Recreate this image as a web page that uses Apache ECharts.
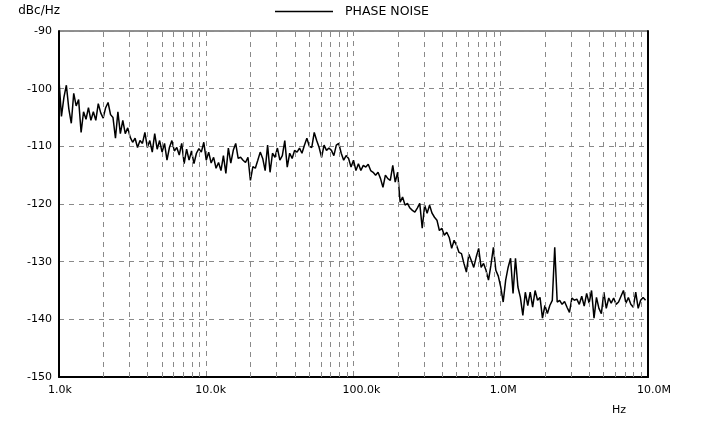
<!DOCTYPE html>
<html>
<head>
<meta charset="utf-8">
<script src="https://cdn.jsdelivr.net/npm/echarts@6/dist/echarts.min.js"></script>
<style>
html,body{margin:0;padding:0;background:#fff;}
#chart{width:706px;height:425px;}
</style>
</head>
<body>
<div id="chart"></div>
<script>
// Offset frequency in kHz (log sweep of the analyzer)
var freqKHz = [
1,1.039,1.08,1.122,1.166,1.212,1.259,1.308,1.359,1.413,1.468,1.526,1.585,1.647,1.711,1.778,1.848,1.92,1.995,2.074,2.154,2.239,2.326,2.418,2.512,2.61,2.712,2.818,2.929,3.043,3.162,3.286,3.415,3.548,3.687,3.831,3.981,4.137,4.299,4.467,4.642,4.823,5.012,5.208,5.412,5.623,5.843,6.072,6.31,6.556,6.813,7.08,7.356,7.644,7.943,8.254,8.577,8.913,9.261,9.624,
10,10.39,10.8,11.22,11.66,12.12,12.59,13.08,13.59,14.13,14.68,15.26,15.85,16.47,17.11,17.78,18.48,19.2,19.95,20.74,21.54,22.39,23.26,24.18,25.12,26.1,27.12,28.18,29.29,30.43,31.62,32.86,34.15,35.48,36.87,38.31,39.81,41.37,42.99,44.67,46.42,48.23,50.12,52.08,54.12,56.23,58.43,60.72,63.1,65.56,68.13,70.8,73.56,76.44,79.43,82.54,85.77,89.13,92.61,96.24,
100,103.9,108,112.2,116.6,121.2,125.9,130.8,135.9,141.3,146.8,152.6,158.5,164.7,171.1,177.8,184.8,192,199.5,207.4,215.4,223.9,232.6,241.8,251.2,261,271.2,281.8,292.9,304.3,316.2,328.6,341.5,354.8,368.7,383.1,398.1,413.7,429.9,446.7,464.2,482.3,501.2,520.8,541.2,562.3,584.3,607.2,631,655.6,681.3,708,735.6,764.4,794.3,825.4,857.7,891.3,926.1,962.4,
1000,1039,1080,1122,1166,1212,1259,1308,1359,1413,1468,1526,1585,1647,1711,1778,1848,1920,1995,2074,2154,2239,2326,2418,2512,2610,2712,2818,2929,3043,3162,3286,3415,3548,3687,3831,3981,4137,4299,4467,4642,4823,5012,5208,5412,5623,5843,6072,6310,6556,6813,7080,7356,7644,7943,8254,8577,8913,9261,9624
];

// Phase noise in dBc/Hz
var phaseNoiseDb = [
-98.5,-104.8,-101.5,-99.4,-103.5,-106.0,-100.8,-103.0,-101.9,-107.6,
-104.0,-105.3,-103.3,-105.5,-104.0,-105.5,-102.6,-104.2,-105.1,-103.3,
-102.4,-104.5,-105.0,-108.6,-104.0,-107.8,-105.5,-107.8,-106.8,-108.4,
-109.3,-108.6,-110.2,-109.0,-109.5,-107.6,-110.2,-109.0,-111.0,-107.8,
-110.5,-109.0,-111.0,-109.5,-112.4,-110.2,-109.0,-110.8,-110.2,-111.5,
-109.5,-113.0,-110.5,-112.4,-110.8,-113.0,-111.2,-110.4,-111.0,-109.3,
-112.4,-111.0,-112.9,-111.9,-113.8,-112.8,-114.2,-111.6,-114.7,-110.3,
-112.9,-110.7,-109.5,-112.1,-111.9,-112.4,-112.8,-111.9,-115.9,-113.5,
-113.8,-112.4,-111.0,-112.1,-114.2,-109.8,-114.5,-111.2,-111.9,-110.3,
-112.4,-111.6,-109.0,-113.6,-111.2,-112.1,-110.7,-111.0,-110.3,-111.2,
-109.8,-108.6,-110.0,-110.2,-107.6,-109.0,-110.2,-111.9,-109.8,-110.7,
-110.3,-110.7,-111.6,-109.8,-109.5,-111.2,-112.4,-111.6,-112.1,-113.6,
-112.4,-114.2,-113.0,-114.2,-113.3,-113.6,-113.1,-114.2,-114.5,-115.0,
-114.5,-115.6,-117.1,-115.0,-115.6,-115.9,-113.3,-116.2,-114.5,-119.7,
-118.8,-120.2,-119.9,-120.7,-121.1,-121.4,-120.7,-119.9,-124.2,-120.2,
-121.6,-120.2,-121.6,-122.3,-122.8,-124.6,-124.2,-125.4,-124.9,-125.8,
-127.7,-126.3,-127.2,-128.4,-128.6,-130.3,-131.8,-128.7,-129.8,-131.0,
-129.2,-127.7,-131.0,-130.3,-131.5,-133.2,-130.6,-127.5,-131.5,-132.5,
-134.4,-137.0,-133.2,-131.0,-129.4,-135.5,-129.4,-134.4,-136.2,-139.3,
-135.3,-137.6,-135.3,-137.9,-135.0,-136.7,-136.2,-139.8,-137.6,-139.0,
-137.6,-136.7,-127.5,-137.0,-136.7,-137.4,-136.9,-137.9,-138.8,-136.3,
-136.7,-136.5,-137.4,-136.0,-137.7,-135.5,-137.2,-135.0,-139.8,-136.2,
-138.1,-139.0,-135.3,-138.1,-136.3,-137.2,-136.3,-137.4,-137.0,-136.0,
-135.0,-137.2,-136.2,-137.4,-137.9,-135.3,-138.1,-136.7,-136.2,-136.7
];

// Axis tick values (kHz) and labels
var xTickValues = [1, 10, 100, 1000, 10000];
var xTickLabels = ['1.0k', '10.0k', '100.0k', '1.0M', '10.0M'];
// Minor grid positions (kHz): 2..9 of each decade
var minorGridKHz = [2,3,4,5,6,7,8,9,20,30,40,50,60,70,80,90,200,300,400,500,600,700,800,900,2000,3000,4000,5000,6000,7000,8000,9000];

var seriesData = freqKHz.map(function (f, i) { return [f, phaseNoiseDb[i]]; });

var gridStyle = { color: '#8a8a8a', width: 1, type: [5, 5] };
var font = 'DejaVu Sans';

var chart = echarts.init(document.getElementById('chart'), null, { renderer: 'canvas' });
chart.setOption({
  animation: false,
  backgroundColor: '#fff',
  textStyle: { fontFamily: font, color: '#000' },
  grid: { left: 59, right: 58, top: 31, bottom: 48, show: true, borderColor: '#222', borderWidth: 1, backgroundColor: 'transparent' },
  legend: {
    data: ['PHASE NOISE'],
    left: 275, top: 5, padding: 0,
    icon: 'rect',
    itemWidth: 58, itemHeight: 1.5,
    textStyle: { fontFamily: font, fontSize: 12.5, color: '#000', padding: [0, 0, 0, 7] }
  },
  xAxis: {
    type: 'log', logBase: 10, min: 1, max: 10000,
    axisLine: { show: true, lineStyle: { color: '#000', width: 2 } },
    axisTick: { show: false },
    axisLabel: {
      margin: 8, fontFamily: font, fontSize: 11, color: '#000', align: 'left', padding: [0, 0, 0, -11],
      formatter: function (v) {
        for (var i = 0; i < xTickValues.length; i++) {
          if (Math.abs(Math.log10(v) - Math.log10(xTickValues[i])) < 1e-6) return xTickLabels[i];
        }
        return '';
      }
    },
    splitLine: { show: true, lineStyle: gridStyle }
  },
  yAxis: [{
    type: 'value', min: -150, max: -90, interval: 10,
    name: 'dBc/Hz', nameLocation: 'end', nameGap: 14,
    nameTextStyle: { fontFamily: font, fontSize: 12, color: '#000', align: 'right', padding: [0, -1, 0, 0] },
    axisLine: { show: true, lineStyle: { color: '#000', width: 2 } },
    axisTick: { show: false },
    axisLabel: { margin: 7, fontFamily: font, fontSize: 11, color: '#000' },
    splitLine: { show: true, lineStyle: gridStyle }
  }, {
    type: 'value', min: -150, max: -90, interval: 10, position: 'right',
    axisLine: { show: true, lineStyle: { color: '#000', width: 2 } },
    axisTick: { show: false }, axisLabel: { show: false }, splitLine: { show: false }
  }],
  graphic: [{
    type: 'text', left: 612, top: 405,
    style: { text: 'Hz', fontFamily: font, fontSize: 11, fill: '#000' }
  }],
  series: [{
    name: 'minor-grid', type: 'line', data: [], z: 1, silent: true,
    markLine: {
      silent: true, symbol: 'none', label: { show: false },
      lineStyle: gridStyle, animation: false,
      data: minorGridKHz.map(function (v) { return { xAxis: v }; })
    }
  }, {
    name: 'PHASE NOISE', type: 'line', data: seriesData, z: 3,
    symbol: 'none', showSymbol: false, sampling: null,
    lineStyle: { color: '#000', width: 1.5 },
    itemStyle: { color: '#000' }
  }]
});
</script>
</body>
</html>
